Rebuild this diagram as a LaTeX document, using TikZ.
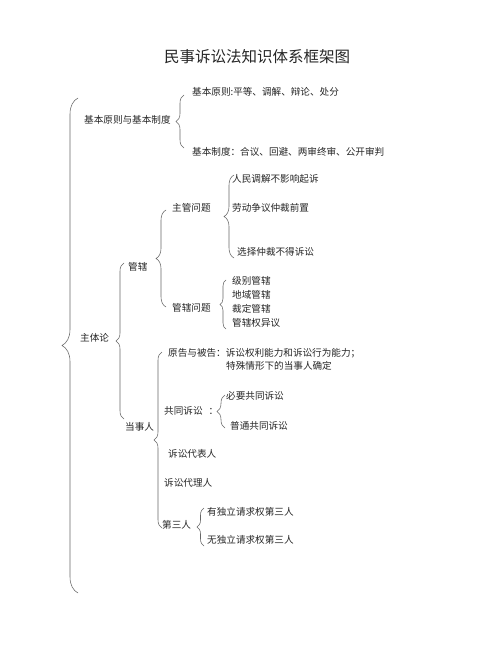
\documentclass[tikz,border=0pt]{standalone}
\usepackage{fontspec}
\setmainfont{Noto Sans CJK SC}
\usetikzlibrary{decorations.pathreplacing}

\begin{document}
\begin{tikzpicture}[
    x=1pt, y=-1pt,
    title/.style={font=\fontsize{15.5}{18}\selectfont, text=black!85, inner sep=0pt},
    item/.style={anchor=west, font=\fontsize{9.6}{11}\selectfont, text=black!85, inner sep=0pt},
    br/.style={decorate, decoration={brace, amplitude=#1}, draw=black!60, line width=0.55pt},
    br/.default=8pt
]
\useasboundingbox[fill=white] (0,0) rectangle (500,647);

% Title
\node[title] (title) at (257,57) {民事诉讼法知识体系框架图};

% Basic principles and systems
\node[item] (basic) at (84,120) {基本原则与基本制度};
\node[item] (principle) at (192,92) {基本原则:平等、调解、辩论、处分};
\node[item] (system) at (192,152) {基本制度：合议、回避、两审终审、公开审判};

% Subject theory
\node[item] (subject) at (80,338) {主体论};
\node[item] (juris) at (128,267) {管辖};
\node[item] (party) at (125,427) {当事人};

% Jurisdiction
\node[item] (compet) at (172,208) {主管问题};
\node[item] (jurq) at (172,308) {管辖问题};
\node[item] (c1) at (232,179) {人民调解不影响起诉};
\node[item] (c2) at (232,208) {劳动争议仲裁前置};
\node[item] (c3) at (237,252) {选择仲裁不得诉讼};
\node[item] (j1) at (232,281) {级别管辖};
\node[item] (j2) at (232,295) {地域管辖};
\node[item] (j3) at (232,309) {裁定管辖};
\node[item] (j4) at (232,323) {管辖权异议};

% Parties
\node[item] (pd) at (168,353) {原告与被告：诉讼权利能力和诉讼行为能力；};
\node[item] (pd2) at (226,366) {特殊情形下的当事人确定};
\node[item] (joint) at (164,411) {共同诉讼\hspace{6pt}：};
\node[item] (jt1) at (226,396) {必要共同诉讼};
\node[item] (jt2) at (230,426) {普通共同诉讼};
\node[item] (rep) at (168,454) {诉讼代表人};
\node[item] (agent) at (164,483) {诉讼代理人};
\node[item] (third) at (162,525) {第三人};
\node[item] (t1) at (207,512) {有独立请求权第三人};
\node[item] (t2) at (207,540) {无独立请求权第三人};

% Braces
\draw[br=16pt] (78,593) -- (78,98);
\draw[br] (184,148) -- (184,95);
\draw[br] (124,419) -- (124,263);
\draw[br=10pt] (166,307) -- (166,210);
\draw[br=10pt] (234,258) -- (234,175);
\draw[br=6pt] (226,329) -- (226,280);
\draw[br] (162,528) -- (162,352);
\draw[br] (225,428) -- (225,395);
\draw[br=7pt] (204,546) -- (204,508);

\end{tikzpicture}
\end{document}
